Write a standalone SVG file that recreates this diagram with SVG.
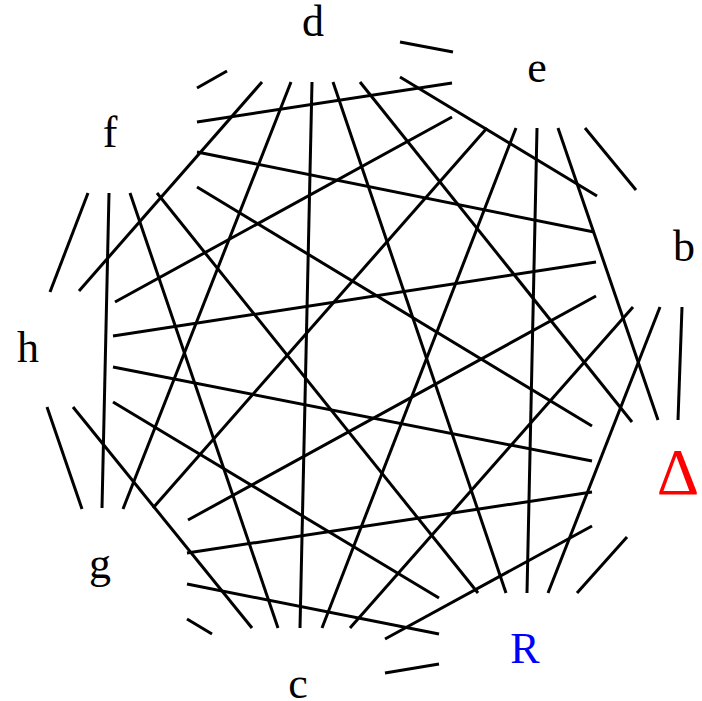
<svg xmlns="http://www.w3.org/2000/svg" width="702" height="701" viewBox="0 0 702 701">
<style>
.ln{stroke:#000;stroke-width:3;fill:none;stroke-linecap:butt}
.lbl{font-family:"Liberation Serif","Times New Roman",serif;font-size:44px;text-anchor:middle;fill:#000}
</style>
<rect width="702" height="701" fill="#fff"/>
<g id="connectors" class="ln">
<line x1="197" y1="88" x2="227" y2="71"/>
<line x1="400" y1="42" x2="453" y2="52"/>
<line x1="585" y1="128" x2="636" y2="190"/>
<line x1="682" y1="307" x2="678" y2="420"/>
<line x1="627" y1="537" x2="577" y2="593"/>
<line x1="385" y1="673" x2="439" y2="664"/>
<line x1="187" y1="619" x2="212" y2="634"/>
<line x1="47" y1="407" x2="82" y2="509"/>
<line x1="88" y1="193" x2="50" y2="292"/>
<line x1="262" y1="82" x2="79" y2="291"/>
<line x1="400" y1="77" x2="597" y2="196"/>
<line x1="197" y1="122" x2="452" y2="83"/>
<line x1="115" y1="302" x2="452" y2="117"/>
<line x1="558" y1="128" x2="658" y2="420"/>
<line x1="197" y1="152" x2="594" y2="232"/>
<line x1="660" y1="307" x2="548" y2="593"/>
<line x1="187" y1="553" x2="592" y2="492"/>
<line x1="592" y1="526" x2="385" y2="639"/>
<line x1="187" y1="584" x2="439" y2="634"/>
<line x1="73" y1="407" x2="252" y2="628"/>
<line x1="312" y1="82" x2="300" y2="628"/>
<line x1="537" y1="128" x2="527" y2="593"/>
<line x1="109" y1="193" x2="102" y2="508"/>
<line x1="291" y1="82" x2="123" y2="509"/>
<line x1="333" y1="82" x2="506" y2="593"/>
<line x1="157" y1="193" x2="478" y2="593"/>
<line x1="113" y1="402" x2="439" y2="598"/>
<line x1="130" y1="193" x2="278" y2="628"/>
<line x1="516" y1="128" x2="322" y2="628"/>
<line x1="633" y1="307" x2="350" y2="628"/>
<line x1="360" y1="82" x2="632" y2="422"/>
<line x1="487" y1="128" x2="153" y2="508"/>
<line x1="113" y1="336" x2="596" y2="262"/>
<line x1="188" y1="520" x2="596" y2="296"/>
<line x1="197" y1="187" x2="592" y2="426"/>
<line x1="113" y1="367" x2="592" y2="461"/>
</g>
<g id="label-d"><text class="lbl" x="313" y="36">d</text></g>
<g id="label-e"><text class="lbl" x="537" y="82">e</text></g>
<g id="label-b"><text class="lbl" x="684" y="261">b</text></g>
<g id="label-delta"><text class="lbl" x="678" y="494" style="fill:#f00;font-size:66px">Δ</text></g>
<g id="label-R"><text class="lbl" x="525" y="663" style="fill:#00f">R</text></g>
<g id="label-c"><text class="lbl" x="298" y="698">c</text></g>
<g id="label-g"><text class="lbl" x="100" y="578">g</text></g>
<g id="label-h"><text class="lbl" x="28" y="362">h</text></g>
<g id="label-f"><text class="lbl" x="110" y="147">f</text></g>
</svg>
